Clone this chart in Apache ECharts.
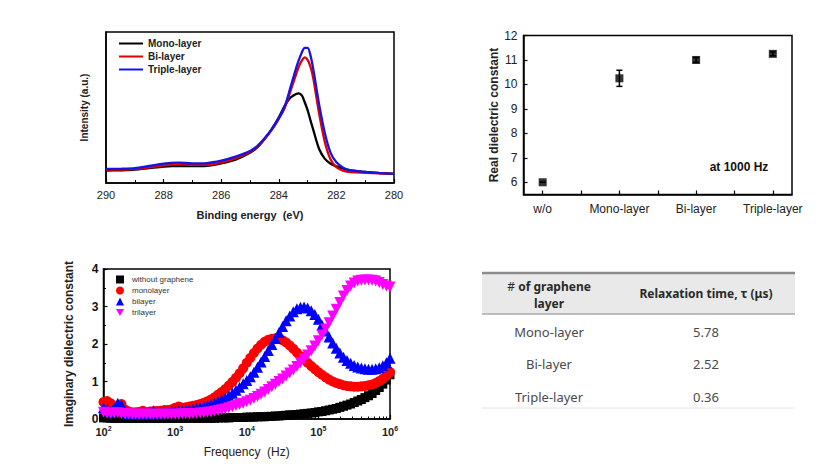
<!DOCTYPE html>
<html>
<head>
<meta charset="utf-8">
<script src="https://cdn.jsdelivr.net/npm/echarts@6/dist/echarts.min.js"></script>
<style>
html,body{margin:0;padding:0;background:#fff;}
#c{width:829px;height:476px;}
</style>
</head>
<body>
<div id="c"></div>
<script>
// ---------- XPS (top-left) ----------
const bindingEnergy = [290, 289.5, 289, 288.5, 288, 287.5, 287, 286.5, 286, 285.5, 285, 284.75, 284.5, 284.25, 284, 283.8, 283.6, 283.4, 283.3, 283.2, 283.1, 283.0, 282.9, 282.8, 282.6, 282.4, 282.2, 282, 281.75, 281.5, 281, 280.5, 280];
const monoIntensity = [8.2, 8.4, 8.8, 9.8, 10.8, 11.3, 11.2, 11.4, 13.0, 15.5, 20.0, 23.5, 29.0, 35.5, 43.5, 51.0, 56.5, 59.0, 59.4, 58.0, 53.5, 48.3, 41.5, 35.0, 22.5, 16.0, 12.8, 11.0, 9.5, 8.3, 7.3, 6.6, 6.0];
const biIntensity = [8.8, 8.9, 9.2, 10.3, 11.7, 12.3, 12.0, 12.0, 13.6, 16.3, 20.5, 24.0, 29.0, 35.0, 42.5, 49.5, 60.5, 72.0, 77.3, 81.0, 83.2, 81.5, 77.0, 69.0, 46.0, 27.0, 15.5, 10.5, 8.0, 7.2, 6.8, 6.4, 6.0];
const triIntensity = [9.3, 9.4, 9.8, 11.3, 12.9, 13.5, 13.0, 13.2, 14.8, 17.5, 21.2, 24.5, 29.5, 35.5, 43.0, 50.5, 63.0, 76.0, 81.7, 86.5, 89.5, 89.5, 84.5, 75.0, 52.0, 33.0, 20.0, 13.8, 10.0, 8.3, 7.3, 6.6, 6.0];
const xpsNames = ['Mono-layer', 'Bi-layer', 'Triple-layer'];

// ---------- Real dielectric constant (top-right) ----------
const realCategories = ['w/o', 'Mono-layer', 'Bi-layer', 'Triple-layer'];
const realValues = [6.0, 10.25, 11.0, 11.25];
const realErrLow = [6.0, 9.92, 10.9, 11.17];
const realErrHigh = [6.0, 10.58, 11.1, 11.33];
const realTickLabels = [6, 7, 8, 9, 10, 11, 12];
const realNote = 'at 1000 Hz';

// ---------- Imaginary dielectric constant (bottom-left) ----------
const freqLog10 = [2.00,2.05,2.10,2.15,2.20,2.25,2.30,2.35,2.40,2.45,2.50,2.55,2.60,2.65,2.70,2.75,2.80,2.85,2.90,2.95,3.00,3.05,3.10,3.15,3.20,3.25,3.30,3.35,3.40,3.45,3.50,3.55,3.60,3.65,3.70,3.75,3.80,3.85,3.90,3.95,4.00,4.05,4.10,4.15,4.20,4.25,4.30,4.35,4.40,4.45,4.50,4.55,4.60,4.65,4.70,4.75,4.80,4.85,4.90,4.95,5.00,5.05,5.10,5.15,5.20,5.25,5.30,5.35,5.40,5.45,5.50,5.55,5.60,5.65,5.70,5.75,5.80,5.85,5.90,5.95,6.00];
const imagWithout = [0.03,0.03,0.02,0.02,0.02,0.02,0.02,0.02,0.02,0.02,
  0.02,0.02,0.02,0.02,0.02,0.02,0.02,0.02,0.02,0.02,
  0.02,0.02,0.02,0.02,0.02,0.02,0.02,0.02,0.02,0.02,
  0.02,0.02,0.03,0.03,0.03,0.03,0.04,0.04,0.04,0.04,
  0.05,0.05,0.05,0.06,0.06,0.06,0.07,0.07,0.08,0.08,
  0.09,0.10,0.11,0.11,0.12,0.13,0.14,0.15,0.16,0.17,
  0.19,0.20,0.22,0.24,0.26,0.28,0.31,0.34,0.37,0.40,
  0.44,0.48,0.52,0.57,0.62,0.68,0.76,0.84,0.93,1.04,
  1.18];
const imagMono = [0.45,0.48,0.42,0.30,0.36,0.40,0.25,0.20,0.18,0.18,
  0.19,0.22,0.18,0.20,0.21,0.21,0.22,0.24,0.24,0.26,
  0.30,0.33,0.30,0.31,0.33,0.35,0.37,0.40,0.43,0.47,
  0.52,0.58,0.65,0.72,0.80,0.89,0.99,1.10,1.22,1.35,
  1.50,1.63,1.76,1.88,1.98,2.06,2.11,2.14,2.15,2.14,
  2.10,2.04,1.96,1.87,1.77,1.68,1.59,1.50,1.41,1.33,
  1.25,1.18,1.11,1.05,1.00,0.96,0.93,0.90,0.88,0.87,
  0.86,0.86,0.87,0.88,0.90,0.92,0.96,1.01,1.07,1.15,
  1.25];
const imagBi = [0.30,0.25,0.20,0.30,0.42,0.38,0.20,0.15,0.14,0.15,
  0.14,0.15,0.15,0.16,0.22,0.16,0.17,0.18,0.19,0.20,
  0.21,0.22,0.23,0.24,0.25,0.27,0.29,0.31,0.33,0.36,
  0.39,0.42,0.46,0.51,0.56,0.62,0.69,0.77,0.85,0.94,
  1.03,1.13,1.25,1.38,1.52,1.67,1.83,1.99,2.15,2.31,
  2.47,2.62,2.75,2.86,2.94,2.98,2.99,2.96,2.89,2.79,
  2.66,2.51,2.35,2.19,2.03,1.89,1.76,1.65,1.56,1.49,
  1.43,1.39,1.36,1.34,1.33,1.33,1.34,1.37,1.42,1.50,
  1.62];
const imagTri = [0.18,0.16,0.15,0.16,0.17,0.15,0.14,0.14,0.13,0.13,
  0.13,0.13,0.13,0.13,0.13,0.13,0.13,0.13,0.13,0.13,
  0.13,0.13,0.14,0.14,0.14,0.15,0.15,0.16,0.17,0.18,
  0.19,0.21,0.23,0.25,0.27,0.30,0.33,0.36,0.39,0.42,
  0.46,0.50,0.55,0.60,0.66,0.72,0.79,0.86,0.93,1.00,
  1.07,1.15,1.23,1.31,1.40,1.50,1.60,1.71,1.82,1.95,
  2.09,2.24,2.40,2.57,2.75,2.93,3.11,3.28,3.43,3.55,
  3.63,3.68,3.70,3.71,3.71,3.70,3.68,3.64,3.59,3.55,
  3.52];
const imagNames = ['without graphene', 'monolayer', 'bilayer', 'trilayer'];

// ---------- Table (bottom-right) ----------
const tableHeaders = ['# of graphene\nlayer', 'Relaxation time, \u03c4 (\u03bcs)'];
const tableLayers = ['Mono-layer', 'Bi-layer', 'Triple-layer'];
const relaxTimes = ['5.78', '2.52', '0.36'];

// ================= rendering =================
const FONT = '"Liberation Sans", Arial, sans-serif';
const TFONT = '"Noto Sans", "Liberation Sans", sans-serif';
const chart = echarts.init(document.getElementById('c'), null, {renderer: 'svg', width: 829, height: 476});

const zip = (xs, ys) => xs.map((x, i) => [x, ys[i]]);
const axisLine = {show: true, onZero: false, lineStyle: {color: '#000', width: 1.5}};
const gridBox = {show: true, borderColor: '#000', borderWidth: 1.5, backgroundColor: 'transparent'};

// minor log ticks for the frequency axis
const minorLog = [];
for (let n = 2; n < 6; n++) for (let k = 2; k <= 9; k++) minorLog.push(n + Math.log10(k));

const realIdx = realCategories.map((c, i) => i);
const realHalfTicks = [];
for (let i = 0; i < realCategories.length; i++) { realHalfTicks.push(i); if (i < realCategories.length - 1) realHalfTicks.push(i + 0.5); }

const xpsColors = ['#000000', '#e00000', '#1414e6'];
const xpsData = [monoIntensity, biIntensity, triIntensity];
const imagData = [imagWithout, imagMono, imagBi, imagTri];
const imagColors = ['#000000', '#ff0000', '#0000ff', '#ff00ff'];
const imagSymbols = ['rect', 'circle', 'triangle', 'path://M0,0 L10,0 L5,9 Z'];
const imagSizes = [9, 10, 11, 11];

// table graphics
const T = {left: 482, right: 795, top: 273, headBottom: 314, row0: 331.5, pitch: 32.5, bottom: 408, c1: 549, c2: 706};
const graphics = [
  {type: 'rect', shape: {x: T.left, y: T.top, width: T.right - T.left, height: T.headBottom - T.top}, style: {fill: '#e9e9e9'}},
  {type: 'line', shape: {x1: T.left, y1: T.top, x2: T.right, y2: T.top}, style: {stroke: '#8c8c8c', lineWidth: 2.5}},
  {type: 'line', shape: {x1: T.left, y1: T.headBottom, x2: T.right, y2: T.headBottom}, style: {stroke: '#a8a8a8', lineWidth: 1.5}},
  {type: 'line', shape: {x1: T.left, y1: T.bottom, x2: T.right, y2: T.bottom}, style: {stroke: '#e4e4e4', lineWidth: 1}},
  {type: 'text', x: T.c1, y: 295, style: {
    text: '{n|#} {b|' + tableHeaders[0].split('\n')[0].replace('# ', '') + '}\n{b|' + tableHeaders[0].split('\n')[1] + '}',
    align: 'center', verticalAlign: 'middle',
    rich: {
      n: {fontFamily: TFONT, fontSize: 12, fontWeight: 'normal', fill: '#2a2a2a', lineHeight: 17},
      b: {fontFamily: TFONT, fontSize: 12, fontWeight: 'bold', fill: '#2a2a2a', lineHeight: 17}
    }}},
  {type: 'text', x: T.c2, y: 293, style: {text: tableHeaders[1], align: 'center', verticalAlign: 'middle',
    fontFamily: TFONT, fontSize: 12, fontWeight: 'bold', fill: '#2a2a2a'}}
];
tableLayers.forEach((name, i) => {
  const y = T.row0 + i * T.pitch;
  graphics.push({type: 'text', x: T.c1, y: y, style: {text: name, align: 'center', verticalAlign: 'middle',
    fontFamily: TFONT, fontSize: 13, fill: '#4a4a4a'}});
  graphics.push({type: 'text', x: T.c2, y: y, style: {text: relaxTimes[i], align: 'center', verticalAlign: 'middle',
    fontFamily: TFONT, fontSize: 13, fill: '#4a4a4a'}});
});
// annotation in the real-part chart
graphics.push({type: 'text', x: 739, y: 167, style: {text: realNote, align: 'center', verticalAlign: 'middle',
  fontFamily: FONT, fontSize: 12, fontWeight: 'bold', fill: '#111'}});

const option = {
  animation: false,
  backgroundColor: '#fff',
  textStyle: {fontFamily: FONT},
  grid: [
    Object.assign({left: 106, top: 32, width: 288, height: 151}, gridBox),
    Object.assign({left: 523.5, top: 35.5, width: 268.5, height: 159}, gridBox),
    Object.assign({left: 103.5, top: 269, width: 286.5, height: 150}, gridBox)
  ],
  legend: [
    {
      data: xpsNames, orient: 'vertical', left: 118, top: 38.5, itemWidth: 24, itemHeight: 10, itemGap: 3,
      padding: 0, itemStyle: {opacity: 0, borderWidth: 0},
      textStyle: {fontFamily: FONT, fontSize: 10, fontWeight: 'bold', color: '#222', lineHeight: 10}
    },
    {
      data: imagNames, orient: 'vertical', left: 116, top: 275.5, itemWidth: 8, itemHeight: 8, itemGap: 3,
      padding: 0, textStyle: {fontFamily: FONT, fontSize: 8, color: '#333', lineHeight: 8, padding: [0, 0, 0, 3]}
    }
  ],
  xAxis: [
    {
      type: 'value', gridIndex: 0, min: 280, max: 290, interval: 2, inverse: true,
      axisLine: axisLine,
      axisTick: {show: true, inside: true, length: 4, lineStyle: {color: '#000', width: 1.2}},
      minorTick: {show: true, splitNumber: 2, length: 3, lineStyle: {color: '#000', width: 1}},
      splitLine: {show: false}, minorSplitLine: {show: false},
      axisLabel: {fontFamily: FONT, fontSize: 11, color: '#222', margin: 6},
      name: 'Binding energy  (eV)', nameLocation: 'middle', nameGap: 26,
      nameTextStyle: {fontFamily: FONT, fontSize: 11, fontWeight: 'bold', color: '#222'}
    },
    {
      type: 'value', gridIndex: 1, min: -0.25, max: 3.25,
      axisLine: axisLine,
      axisTick: {show: true, inside: true, length: 4, customValues: realHalfTicks, lineStyle: {color: '#000', width: 1.2}},
      splitLine: {show: false},
      axisLabel: {customValues: realIdx, formatter: v => realCategories[Math.round(v)] || '',
        fontFamily: FONT, fontSize: 12, color: '#222', margin: 8}
    },
    {
      type: 'value', gridIndex: 2, min: 2, max: 6, interval: 1, position: 'bottom',
      axisLine: axisLine,
      axisTick: {show: true, inside: true, length: 4, lineStyle: {color: '#000', width: 1.2}},
      splitLine: {show: false},
      axisLabel: {
        margin: 6,
        formatter: v => '{b|10}{s|' + Math.round(v) + '}',
        rich: {
          b: {fontFamily: FONT, fontSize: 11, fontWeight: 'bold', color: '#222', lineHeight: 14},
          s: {fontFamily: FONT, fontSize: 7, fontWeight: 'bold', color: '#222', lineHeight: 8, verticalAlign: 'top'}
        }
      },
      name: 'Frequency  (Hz)', nameLocation: 'middle', nameGap: 27,
      nameTextStyle: {fontFamily: FONT, fontSize: 12, color: '#222'}
    },
    {
      type: 'value', gridIndex: 2, min: 2, max: 6, position: 'bottom',
      axisLine: {show: false}, axisLabel: {show: false}, splitLine: {show: false},
      axisTick: {show: true, inside: true, length: 2.5, customValues: minorLog, lineStyle: {color: '#000', width: 1}}
    }
  ],
  yAxis: [
    {
      type: 'value', gridIndex: 0, min: 0, max: 100,
      axisLine: axisLine, axisTick: {show: false}, axisLabel: {show: false}, splitLine: {show: false},
      name: 'Intensity (a.u.)', nameLocation: 'middle', nameGap: 17,
      nameTextStyle: {fontFamily: FONT, fontSize: 10, fontWeight: 'bold', color: '#222'}
    },
    {
      type: 'value', gridIndex: 1, min: 5.5, max: 12,
      axisLine: axisLine,
      axisTick: {show: true, inside: true, length: 4, customValues: realTickLabels, lineStyle: {color: '#000', width: 1.2}},
      splitLine: {show: false},
      axisLabel: {customValues: realTickLabels, fontFamily: FONT, fontSize: 12, color: '#222', margin: 6},
      name: 'Real dielectric constant', nameLocation: 'middle', nameGap: 21,
      nameTextStyle: {fontFamily: FONT, fontSize: 12, fontWeight: 'bold', color: '#222'}
    },
    {
      type: 'value', gridIndex: 2, min: 0, max: 4, interval: 1,
      axisLine: axisLine,
      axisTick: {show: true, inside: true, length: 4, lineStyle: {color: '#000', width: 1.2}},
      minorTick: {show: true, splitNumber: 2, length: 2.5, lineStyle: {color: '#000', width: 1}},
      splitLine: {show: false}, minorSplitLine: {show: false},
      axisLabel: {fontFamily: FONT, fontSize: 12, fontWeight: 'bold', color: '#111', margin: 5},
      name: 'Imaginary dielectric constant', nameLocation: 'middle', nameGap: 29,
      nameTextStyle: {fontFamily: FONT, fontSize: 12, fontWeight: 'bold', color: '#222'}
    }
  ],
  graphic: graphics,
  series: []
};

// XPS lines
xpsNames.forEach((name, k) => {
  option.series.push({
    type: 'line', name: name, xAxisIndex: 0, yAxisIndex: 0,
    data: zip(bindingEnergy, xpsData[k]),
    smooth: 0.3, symbol: 'none', showSymbol: false, silent: true,
    lineStyle: {color: xpsColors[k], width: 2.3}, itemStyle: {color: xpsColors[k]}
  });
});

// Real dielectric: error bars + points
option.series.push({
  type: 'custom', xAxisIndex: 1, yAxisIndex: 1, silent: true,
  data: realIdx.map(i => [i, realErrLow[i], realErrHigh[i]]),
  renderItem: (params, api) => {
    const x = api.value(0);
    const lo = api.coord([x, api.value(1)]);
    const hi = api.coord([x, api.value(2)]);
    const w = 3;
    const st = {stroke: '#000', lineWidth: 1.5};
    return {type: 'group', children: [
      {type: 'line', shape: {x1: lo[0], y1: lo[1], x2: hi[0], y2: hi[1]}, style: st},
      {type: 'line', shape: {x1: lo[0] - w, y1: lo[1], x2: lo[0] + w, y2: lo[1]}, style: st},
      {type: 'line', shape: {x1: hi[0] - w, y1: hi[1], x2: hi[0] + w, y2: hi[1]}, style: st}
    ]};
  }
});
option.series.push({
  type: 'scatter', xAxisIndex: 1, yAxisIndex: 1, silent: true,
  data: zip(realIdx, realValues), symbol: 'rect', symbolSize: 8,
  itemStyle: {color: '#000'}
});

// Imaginary part scatter
imagNames.forEach((name, k) => {
  option.series.push({
    type: 'scatter', name: name, xAxisIndex: 2, yAxisIndex: 2, silent: true,
    data: zip(freqLog10, imagData[k]),
    symbol: imagSymbols[k], symbolSize: imagSizes[k],
    itemStyle: {color: imagColors[k], opacity: 1}
  });
});

chart.setOption(option);
</script>
</body>
</html>
